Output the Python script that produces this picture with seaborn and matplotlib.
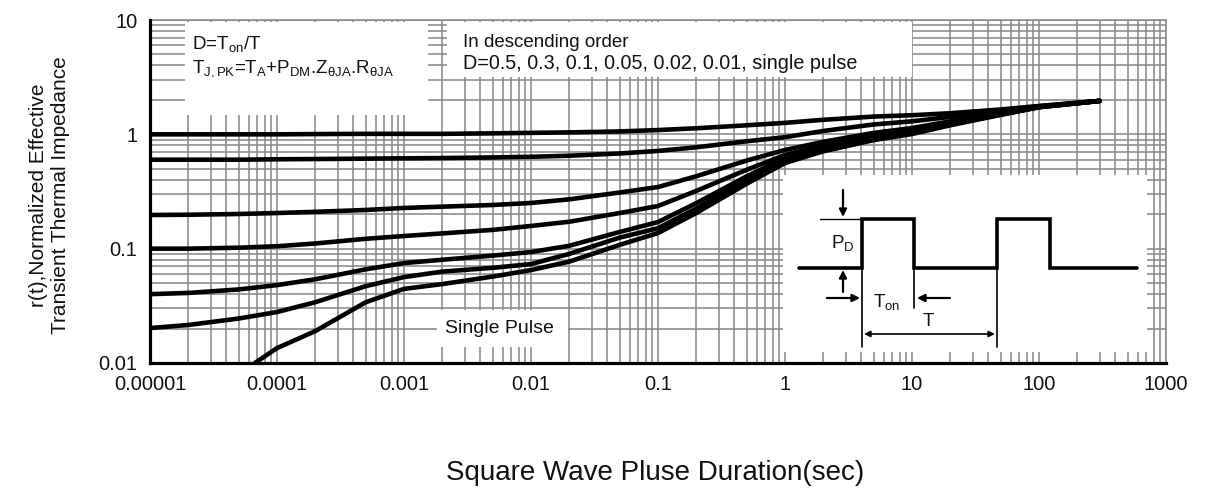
import numpy as np
import pandas as pd
import matplotlib
matplotlib.use("Agg")
import matplotlib.pyplot as plt
import matplotlib.ticker as mticker
from matplotlib.patches import Rectangle
import seaborn as sns

# ---------------- data ----------------
T_COMMON = [1e-5, 2e-5, 5e-5, 1e-4, 2e-4, 5e-4, 1e-3, 2e-3, 5e-3, 1e-2, 2e-2, 5e-2,
            0.1, 0.2, 0.5, 1, 2, 5, 10, 20, 50, 100, 300]

R_D05 = [1.00, 1.00, 1.00, 1.00, 1.005, 1.01, 1.01, 1.01, 1.02, 1.03, 1.04, 1.06,
         1.09, 1.13, 1.20, 1.26, 1.34, 1.43, 1.47, 1.53, 1.65, 1.77, 1.96]
R_D03 = [0.60, 0.60, 0.60, 0.605, 0.608, 0.613, 0.617, 0.62, 0.628, 0.636, 0.65, 0.68,
         0.716, 0.77, 0.87, 0.944, 1.07, 1.22, 1.30, 1.42, 1.60, 1.76, 1.96]
R_D01 = [0.197, 0.198, 0.201, 0.205, 0.21, 0.218, 0.227, 0.233, 0.241, 0.251, 0.27, 0.31,
         0.346, 0.43, 0.59, 0.73, 0.86, 1.03, 1.135, 1.30, 1.53, 1.74, 1.96]
R_D005 = [0.100, 0.100, 0.102, 0.105, 0.111, 0.122, 0.129, 0.136, 0.146, 0.158, 0.172, 0.205,
          0.236, 0.32, 0.49, 0.66, 0.80, 0.98, 1.09, 1.25, 1.50, 1.73, 1.96]
R_D002 = [0.040, 0.041, 0.044, 0.048, 0.054, 0.066, 0.0748, 0.080, 0.087, 0.0934, 0.106, 0.140,
          0.171, 0.25, 0.43, 0.62, 0.77, 0.95, 1.069, 1.23, 1.49, 1.73, 1.96]
R_D001 = [0.0202, 0.0215, 0.0245, 0.0279, 0.034, 0.047, 0.0564, 0.063, 0.068, 0.0733, 0.090, 0.125,
          0.151, 0.225, 0.40, 0.584, 0.74, 0.92, 1.047, 1.22, 1.49, 1.73, 1.96]

T_SINGLE = [6.7e-5, 1e-4, 2e-4, 5e-4, 1e-3, 2e-3, 5e-3, 1e-2, 2e-2, 5e-2,
            0.1, 0.2, 0.5, 1, 2, 5, 10, 20, 50, 100, 300]
R_SINGLE = [0.010, 0.0135, 0.019, 0.034, 0.0445, 0.049, 0.057, 0.065, 0.077, 0.108,
            0.137, 0.205, 0.37, 0.561, 0.71, 0.89, 1.006, 1.20, 1.48, 1.73, 1.96]

DUTY_LABELS = ["0.5", "0.3", "0.1", "0.05", "0.02", "0.01", "single pulse"]

X_TICKS = [1e-5, 1e-4, 1e-3, 1e-2, 1e-1, 1, 10, 100, 1000]
X_TICKLABELS = ["0.00001", "0.0001", "0.001", "0.01", "0.1", "1", "10", "100", "1000"]
Y_TICKS = [0.01, 0.1, 1, 10]
Y_TICKLABELS = ["0.01", "0.1", "1", "10"]

# pulse sketch (inset units = pixels of the sketch box)
PULSE_X = [16, 79, 79, 131, 131, 214, 214, 267, 267, 354]
PULSE_Y = [84, 84, 133, 133, 84, 84, 133, 133, 84, 84]

# ---------------- style ----------------
sns.set_theme(style="white")
plt.rcParams.update({
    "font.family": ["Liberation Sans", "DejaVu Sans"],
    "mathtext.fontset": "custom",
    "mathtext.rm": "Liberation Sans",
    "mathtext.it": "Liberation Sans:italic",
    "mathtext.default": "rm",
    "axes.unicode_minus": False,
    "text.color": "#111111",
    "axes.labelcolor": "#111111",
    "xtick.color": "#111111",
    "ytick.color": "#111111",
})
GRID = "#8a8a8a"

curvas = [R_D05, R_D03, R_D01, R_D005, R_D002, R_D001]
linhas = []
for lab, r in zip(DUTY_LABELS[:-1], curvas):
    linhas.append(pd.DataFrame({"t": T_COMMON, "r": r, "D": lab}))
linhas.append(pd.DataFrame({"t": T_SINGLE, "r": R_SINGLE, "D": DUTY_LABELS[-1]}))
df = pd.concat(linhas, ignore_index=True)

fig = plt.figure(figsize=(12.08, 4.91), dpi=100)
ax = fig.add_axes([150 / 1208, 1 - 363 / 491, 1016 / 1208, 343 / 491])

sns.lineplot(data=df, x="t", y="r", hue="D", palette=["black"] * 7,
             estimator=None, sort=False, legend=False, linewidth=3.3,
             ax=ax, zorder=3)

ax.set_xscale("log")
ax.set_yscale("log")
ax.set_xlim(1e-5, 1000)
ax.set_ylim(0.01, 10)

ax.xaxis.set_major_locator(mticker.FixedLocator(X_TICKS))
ax.xaxis.set_major_formatter(mticker.FixedFormatter(X_TICKLABELS))
ax.yaxis.set_major_locator(mticker.FixedLocator(Y_TICKS))
ax.yaxis.set_major_formatter(mticker.FixedFormatter(Y_TICKLABELS))
ax.xaxis.set_minor_locator(mticker.LogLocator(base=10, subs=range(2, 10), numticks=20))
ax.yaxis.set_minor_locator(mticker.LogLocator(base=10, subs=range(2, 10), numticks=20))
ax.xaxis.set_minor_formatter(mticker.NullFormatter())
ax.yaxis.set_minor_formatter(mticker.NullFormatter())

ax.grid(True, which="both", color=GRID, linewidth=1.15)
ax.set_axisbelow(True)
ax.tick_params(which="major", direction="out", length=3, width=1.5, color="black",
               labelsize=14.5, pad=6)
ax.tick_params(which="minor", length=0)

for s in ["left", "bottom"]:
    ax.spines[s].set_color("black")
    ax.spines[s].set_linewidth(2.3)
    ax.spines[s].set_zorder(5)
for s in ["top", "right"]:
    ax.spines[s].set_color(GRID)
    ax.spines[s].set_linewidth(1.15)

ax.set_xlabel("Square Wave Pluse Duration(sec)", fontsize=20)
ax.xaxis.set_label_coords(0.497, -0.283)
ax.set_ylabel("r(t),Normalized Effective\nTransient Thermal Impedance", fontsize=15,
              linespacing=1.2)
ax.yaxis.set_label_coords(-0.079, 0.49)

# caixas brancas que escondem a grade
for (x0, y0, x1, y1) in [(0.0344, 0.723, 0.2736, 0.995),
                         (0.2923, 0.834, 0.75, 0.995),
                         (0.2825, 0.047, 0.4114, 0.154)]:
    ax.add_patch(Rectangle((x0, y0), x1 - x0, y1 - y0, transform=ax.transAxes,
                           facecolor="white", edgecolor="none", zorder=2))

ax.text(0.041, 0.93, "D=T$_{on}$/T", transform=ax.transAxes, fontsize=13.5,
        va="center", ha="left", zorder=4)
ax.text(0.041, 0.857, "T$_{J,PK}$=T$_A$+P$_{DM}$.Z$_{θJA}$.R$_{θJA}$", transform=ax.transAxes,
        fontsize=13.5, va="center", ha="left", zorder=4)
ax.text(0.308, 0.935, "In descending order", transform=ax.transAxes, fontsize=13.5,
        va="center", ha="left", zorder=4)
ax.text(0.308, 0.874, "D=" + ", ".join(DUTY_LABELS), transform=ax.transAxes,
        fontsize=14.2, va="center", ha="left", zorder=4)
ax.text(0.290, 0.102, "Single Pulse", transform=ax.transAxes, fontsize=14,
        va="center", ha="left", zorder=4)

# inset com o desenho do pulso
ins = ax.inset_axes([(783 - 150) / 1016, (363 - 352) / 343, 364 / 1016, 177 / 343])
ins.set_facecolor("white")
ins.set_xlim(0, 364)
ins.set_ylim(0, 177)
ins.set_xticks([])
ins.set_yticks([])
for s in ins.spines.values():
    s.set_visible(False)
ins.set_zorder(4)

ins.plot(PULSE_X, PULSE_Y, color="black", linewidth=2.6, solid_joinstyle="miter")
ins.plot([37, 79], [133, 133], color="black", linewidth=1)
ins.plot([79, 79], [84, 5], color="black", linewidth=1.2)
ins.plot([131, 131], [84, 44], color="black", linewidth=1.2)
ins.plot([214, 214], [84, 5], color="black", linewidth=1.2)
arrow = dict(arrowstyle="-|>", color="black", lw=1.6, mutation_scale=11,
             shrinkA=0, shrinkB=0)
ins.annotate("", xy=(60, 135), xytext=(60, 162), arrowprops=arrow)
ins.annotate("", xy=(60, 82), xytext=(60, 60), arrowprops=arrow)
ins.annotate("", xy=(77, 54), xytext=(44, 54), arrowprops=arrow)
ins.annotate("", xy=(134, 54), xytext=(167, 54), arrowprops=arrow)
ins.annotate("", xy=(212, 18), xytext=(81, 18),
             arrowprops=dict(arrowstyle="<|-|>", color="black", lw=1.2,
                             mutation_scale=9, shrinkA=0, shrinkB=0))
ins.text(60, 109, "P$_D$", fontsize=13.5, ha="center", va="center")
ins.text(104, 50, "T$_{on}$", fontsize=13.5, ha="center", va="center")
ins.text(145, 30, "T", fontsize=13.5, ha="center", va="center")

fig.savefig("out.png", dpi=100)
